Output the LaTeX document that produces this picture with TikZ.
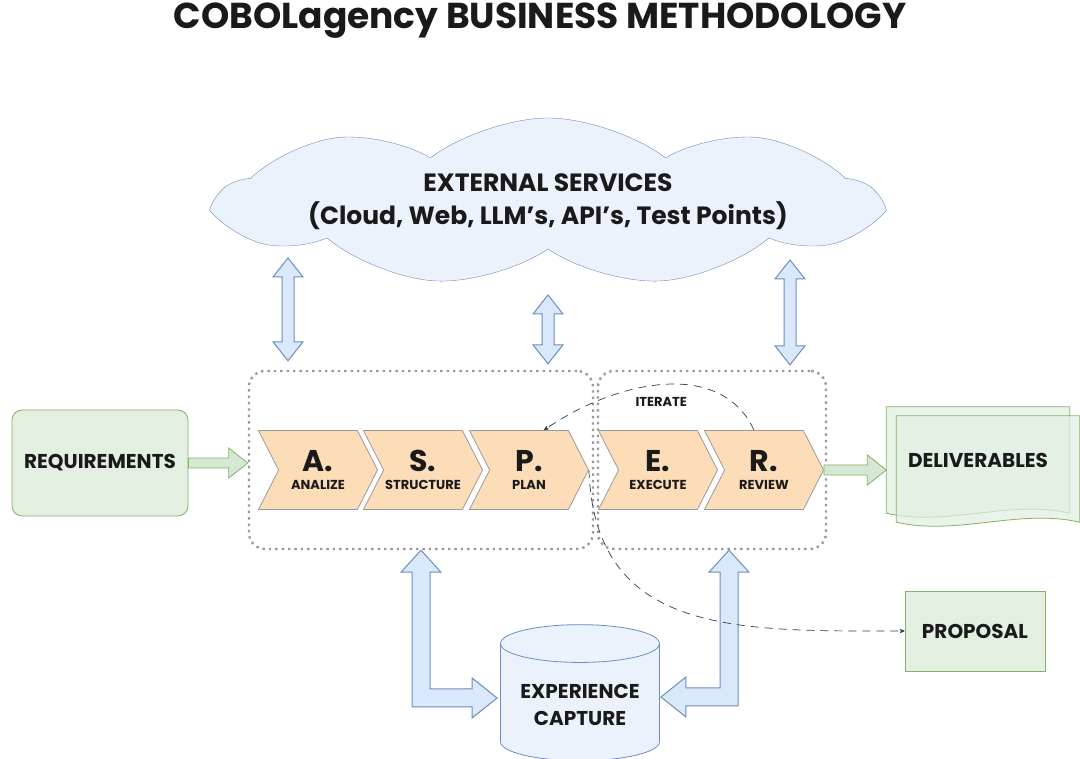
\documentclass[tikz,border=0pt]{standalone}
\usepackage{fontspec}
\setmainfont{Poppins}
\usetikzlibrary{arrows,positioning,calc,shapes.symbols,shapes.geometric,backgrounds}

\definecolor{grnfill}{HTML}{E2EFE1}
\definecolor{grnline}{HTML}{82B366}
\definecolor{grnarrow}{HTML}{D5E8D4}
\definecolor{bluefill}{HTML}{EBF2FC}
\definecolor{blueline}{HTML}{6C8EBF}
\definecolor{bluearrow}{HTML}{DAE8FC}
\definecolor{orgfill}{HTML}{FCDDB8}
\definecolor{chevline}{HTML}{9A9A9A}
\definecolor{dashcol}{HTML}{23445D}
\definecolor{ink}{HTML}{1A1A1A}

\newcommand\phaselabel[2]{{\fontsize{30}{30}\selectfont #1}\\[6pt]{\fontsize{13}{13}\selectfont #2}}
\newcommand\biarrowv[2]{%
  \path[fatarrow] let \p1=#1, \p2=#2 in
    (\x1,\y1) -- (\x1+15pt,\y1-19pt) -- (\x1+6pt,\y1-19pt) -- (\x1+6pt,\y2+19pt)
    -- (\x1+15pt,\y2+19pt) -- (\x1,\y2) -- (\x1-15pt,\y2+19pt) -- (\x1-6pt,\y2+19pt)
    -- (\x1-6pt,\y1-19pt) -- (\x1-15pt,\y1-19pt) -- cycle;}
\newcommand\biarrowl[2]{%
  \path[fatarrow] let \p1=#1, \p2=#2, \n1={sign(\x2-\x1)} in
    (\x1,\y1) -- ({\x1+(\n1*20pt)},\y1-22pt) -- ({\x1+(\n1*9pt)},\y1-22pt)
    -- ({\x1+(\n1*9pt)},\y2+9pt) -- ({\x2-(\n1*25pt)},\y2+9pt) -- ({\x2-(\n1*25pt)},\y2+20pt)
    -- (\x2,\y2) -- ({\x2-(\n1*25pt)},\y2-20pt) -- ({\x2-(\n1*25pt)},\y2-9pt)
    -- ({\x1-(\n1*9pt)},\y2-9pt) -- ({\x1-(\n1*9pt)},\y1-22pt) -- ({\x1-(\n1*20pt)},\y1-22pt) -- cycle;}
\newcommand\fatarrowh[2]{%
  \path[greenarrow] let \p1=#1, \p2=#2 in
    (\x1,\y1+5pt) -- (\x2-19pt,\y1+5pt) -- (\x2-19pt,\y1+15pt) -- (\x2,\y1)
    -- (\x2-19pt,\y1-15pt) -- (\x2-19pt,\y1-5pt) -- (\x1,\y1-5pt) -- cycle;}

\begin{document}
\begin{tikzpicture}[x=1pt,y=-1pt,>=stealth',on grid,
    every node/.style={text=ink,font=\bfseries},
    box/.style={draw=grnline,fill=grnfill,line width=0.8pt,font=\bfseries\fontsize{20}{22}\selectfont},
    docpage/.style={draw=grnline,fill=grnfill,fill opacity=0.7,line width=0.8pt},
    groupbox/.style={draw=chevline,line width=2.4pt,dash pattern=on 2.4pt off 4pt,rounded corners=16pt},
    phase/.style={signal,signal to=east,signal from=west,signal pointer angle=126,draw=chevline,
        fill=orgfill,line width=0.8pt,minimum width=119pt,minimum height=79pt,inner sep=0pt,align=center},
    fatarrow/.style={draw=blueline,fill=bluearrow,line width=1pt},
    greenarrow/.style={draw=grnline,fill=grnarrow,line width=0.8pt},
    iter/.style={draw=dashcol,line width=0.7pt,dash pattern=on 8pt off 6pt}]

  \useasboundingbox (0,0) rectangle (1080,759);

  \node[font=\bfseries\fontsize{36}{40}\selectfont] (title) at (540,21) {COBOLagency BUSINESS METHODOLOGY};

  \node[cloud,cloud puffs=9,cloud puff arc=75,cloud ignores aspect,draw=blueline,fill=bluefill,
        minimum width=592pt,minimum height=168pt,align=center,font=\bfseries\fontsize{25}{33}\selectfont]
        (cloud) at (548,202) {EXTERNAL SERVICES\\(Cloud, Web, LLM’s, API’s, Test Points)};

  \node[box,rounded corners=10pt,minimum width=176pt,minimum height=106pt] (req) at (100,463) {REQUIREMENTS};

  \node[groupbox,minimum width=344pt,minimum height=178pt] (prep) at (421,460) {};
  \node[groupbox,minimum width=228pt,minimum height=178pt] (exec) at (712,460) {};

  \node[phase] (ana) at (318,470) {\phaselabel{A.}{ANALIZE}};
  \node[phase,right=105pt of ana] (str) {\phaselabel{S.}{STRUCTURE}};
  \node[phase,right=106pt of str] (pla) {\phaselabel{P.}{PLAN}};
  \node[phase,right=129pt of pla] (exe) {\phaselabel{E.}{EXECUTE}};
  \node[phase,right=106pt of exe] (rev) {\phaselabel{R.}{REVIEW}};

  \node[minimum width=183pt,minimum height=106pt,font=\bfseries\fontsize{20}{22}\selectfont] (deliv) at (978,460) {DELIVERABLES};
  \node[box,minimum width=140pt,minimum height=80pt] (prop) at (975,631) {PROPOSAL};
  \node[cylinder,shape border rotate=90,aspect=0.3,draw=blueline,fill=bluefill,line width=0.8pt,
        minimum width=159pt,minimum height=136pt,align=center,font=\bfseries\fontsize{20}{27}\selectfont]
        (cap) at (580,705) {EXPERIENCE\\CAPTURE};

  \begin{scope}[on background layer]
    \fill[white] (0,0) rectangle (1080,759);
    \path[docpage] (deliv.north west) -- (deliv.north east) -- (deliv.south east)
        .. controls +(-61,-14) and +(61,14) .. (deliv.south west) -- cycle;
    \path[docpage] ($(deliv.north west)+(10,9)$) -- ($(deliv.north east)+(10,9)$) -- ($(deliv.south east)+(10,9)$)
        .. controls +(-61,-14) and +(61,14) .. ($(deliv.south west)+(10,9)$) -- cycle;
  \end{scope}

  \fatarrowh{(req.east)}{(prep.west)}
  \fatarrowh{(rev.east)}{(deliv.west)}

  \biarrowv{($(cloud.center)+(-260,56)$)}{($(prep.north west)+(39,-9)$)}
  \biarrowv{($(cloud.center)+(0,93)$)}{($(prep.north east)+(-45,-6)$)}
  \biarrowv{($(cloud.center)+(242,58)$)}{($(exec.north east)+(-36,-5)$)}

  \biarrowl{(prep.south)}{($(cap.west)+(-3,-7)$)}
  \biarrowl{($(exec.south)+(17,0)$)}{($(cap.east)+(1,-8)$)}

  \draw[iter,->] ($(rev.north)+(-10,0)$) to[out=115,in=35]
      node[midway,below=9pt,font=\bfseries\fontsize{13}{14}\selectfont] (itlab) {ITERATE} ($(pla.north)+(15,0)$);
  \draw[iter,->] (pla.east) to[out=272,in=180,looseness=1.2] (prop.west);

\end{tikzpicture}
\end{document}
